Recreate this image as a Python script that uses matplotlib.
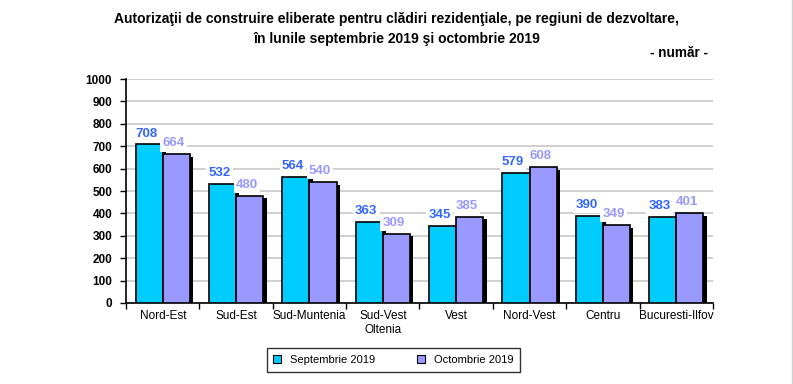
import matplotlib
matplotlib.use("Agg")
import matplotlib.pyplot as plt
import numpy as np

REGIONS = ["Nord-Est", "Sud-Est", "Sud-Muntenia", "Sud-Vest\nOltenia", "Vest",
           "Nord-Vest", "Centru", "Bucuresti-Ilfov"]
SEPT = [708, 532, 564, 363, 345, 579, 390, 383]
OCT = [664, 480, 540, 309, 385, 608, 349, 401]
SERIES = ["Septembrie 2019", "Octombrie 2019"]

TITLE = ("Autorizaţii de construire eliberate pentru clădiri rezidenţiale, pe regiuni de dezvoltare,\n"
         "în lunile septembrie 2019 şi octombrie 2019")

BAR_COLORS = ["#00ccff", "#9999ff"]
LABEL_COLORS = ["#3366ff", "#9999ff"]

plt.rcParams["font.family"] = ["Liberation Sans", "DejaVu Sans"]

fig = plt.figure(figsize=(7.93, 3.84), dpi=100)
ax = fig.add_axes([0.159, 0.211, 0.740, 0.583])

x = np.arange(len(REGIONS))
w = 0.37
# shadow offsets (roughly 3 px right / down)
dx, dy = 0.045, 12

for k, vals in enumerate([SEPT, OCT]):
    pos = x - w / 2 + k * w
    ax.bar(pos + dx, np.array(vals) - dy, width=w, color="black", zorder=2)
for k, vals in enumerate([SEPT, OCT]):
    pos = x - w / 2 + k * w
    ax.bar(pos, vals, width=w, color=BAR_COLORS[k], edgecolor="black", linewidth=1.2,
           zorder=3, label=SERIES[k])
    for p, v in zip(pos, vals):
        ax.text(p - 0.04, v + 22, str(v), ha="center", va="bottom", fontsize=9.5,
                fontweight="bold", color=LABEL_COLORS[k], zorder=4,
                bbox=dict(facecolor="white", edgecolor="none", pad=1.5))

ax.set_xlim(-0.5, len(REGIONS) - 0.5)
ax.set_ylim(0, 1000)
ax.set_yticks(np.arange(0, 1001, 100))
ax.tick_params(axis="y", labelsize=8.5, direction="out", length=4, width=1, pad=6)
ax.set_xticks(x)
ax.set_xticklabels(REGIONS, fontsize=8.5)
ax.set_xticks(np.arange(-0.5, len(REGIONS), 1), minor=True)
ax.tick_params(axis="x", which="major", length=0, pad=5)
ax.tick_params(axis="x", which="minor", length=4, width=1, direction="out")
for lab in ax.get_yticklabels():
    lab.set_fontweight("bold")

ax.grid(axis="y", color="#c8c8c8", linewidth=1.2, zorder=0)
ax.set_axisbelow(True)
for s in ["top", "right"]:
    ax.spines[s].set_visible(False)
for s in ["left", "bottom"]:
    ax.spines[s].set_linewidth(1.2)

fig.text(0.5, 0.925, TITLE, ha="center", va="center", fontsize=10, fontweight="bold",
         linespacing=1.5)
fig.text(0.893, 0.862, "- număr -", ha="right", va="center", fontsize=9.8, fontweight="bold")

leg = fig.legend(loc="center", bbox_to_anchor=(0.496, 0.0625), ncol=2, fontsize=8,
                 frameon=True, fancybox=False, edgecolor="black", handlelength=0.7,
                 handleheight=0.7, columnspacing=3.8, borderpad=0.6,
                 borderaxespad=0)
leg.get_frame().set_linewidth(1.0)
for h in leg.legend_handles:
    h.set_linewidth(0.8)

fig.add_artist(plt.Line2D([0.9985, 0.9985], [0, 1], color="#d0d0d0", linewidth=1,
                          transform=fig.transFigure))

fig.savefig("out.png", dpi=100)
